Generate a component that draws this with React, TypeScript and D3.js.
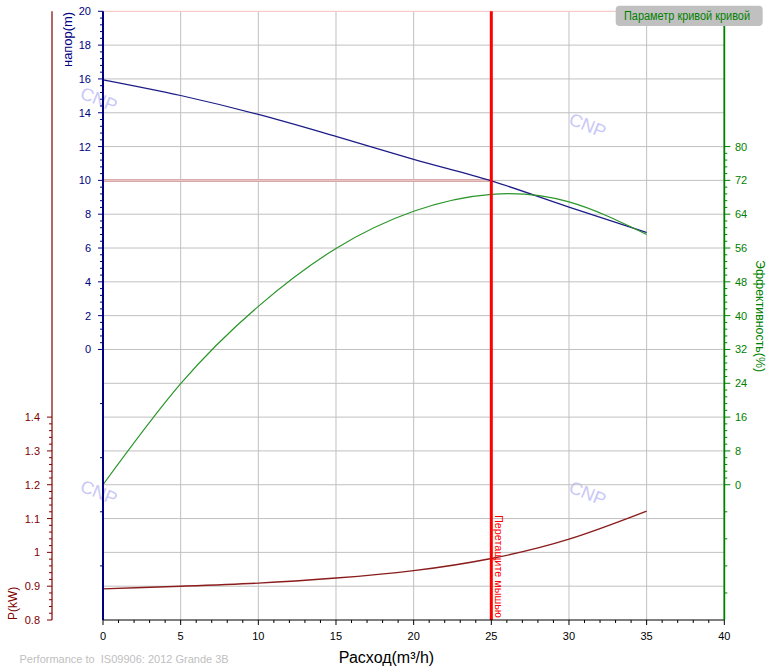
import React from "react";
import * as d3 from "d3";

const flow = [0, 5, 10, 15, 20, 25, 30, 35];
const head = [15.95, 15.02, 13.9, 12.6, 11.24, 9.97, 8.42, 6.92];
const efficiency = [0, 23.9, 42.2, 55.9, 64.7, 68.7, 66.9, 59.2];
const power = [0.892, 0.9, 0.909, 0.924, 0.946, 0.982, 1.039, 1.122];

const xTicks = [0, 5, 10, 15, 20, 25, 30, 35, 40];
const headTicks = [0, 2, 4, 6, 8, 10, 12, 14, 16, 18, 20];
const powerTicks = [0.8, 0.9, 1.0, 1.1, 1.2, 1.3, 1.4];
const powerTickLabels = ["0.8", "0.9", "1", "1.1", "1.2", "1.3", "1.4"];
const effTicks = [0, 8, 16, 24, 32, 40, 48, 56, 64, 72, 80];
const watermarkFlow = [-0.26, 31.2, -0.26, 31.2];
const watermarkHead = [14.8, 13.26, -8.44, -8.5];

const dutyFlow = 25;
const dutyHead = 10;

const W = 773;
const H = 671;
const L = 103;
const R = 724.3;
const T = 11.3;
const B = 620;

const FONT = "'Liberation Sans', Arial, sans-serif";

export default function App() {
  const x = d3.scaleLinear().domain([0, 40]).range([L, R]);
  const yH = d3.scaleLinear().domain([-16, 20]).range([B, T]);
  const yP = d3.scaleLinear().domain([0.8, 2.6]).range([B, T]);
  const yE = d3.scaleLinear().domain([-32, 112]).range([B, T]);

  const mk = (vals: number[], y: d3.ScaleLinear<number, number>, curve: d3.CurveFactory) =>
    d3
      .line<number>()
      .x((_, i) => x(flow[i]))
      .y((d) => y(d))
      .curve(curve)(vals) || "";

  const gridH = d3.range(-14, 20, 2);
  const gridV = [5, 10, 15, 20, 25, 30, 35];

  const headMinor = d3.range(0, 20.001, 0.4).filter((v) => Math.abs(v / 2 - Math.round(v / 2)) > 0.01);
  const headBelow = [-3.2, -6.4, -9.6, -12.8];
  const pMinor = d3.range(0.8, 1.4001, 0.02).filter((v) => Math.abs(v * 10 - Math.round(v * 10)) > 0.01);
  const eMinor = d3.range(0, 80.001, 1.6).filter((v) => Math.abs(v / 8 - Math.round(v / 8)) > 0.01);
  const eBelow = [-6.4, -12.8, -19.2, -25.6];
  const xMinor = d3.range(0, 41, 1).filter((v) => v % 5 !== 0);

  const navy = "#000080";
  const dred = "#800000";
  const green = "#008000";

  return (
    <svg
      width={W}
      height={H}
      style={{ position: "absolute", left: 0, top: 0, background: "#fff" }}
      fontFamily={FONT}
    >
      <rect x={0} y={0} width={W} height={H} fill="#fff" />
      {/* watermarks */}
      {watermarkFlow.map((fx, i) => (
        <text
          key={"wm" + i}
          transform={`translate(${x(fx)},${yH(watermarkHead[i])}) rotate(22)`}
          x={0}
          y={0}
          dy="0.35em"
          fontSize={18}
          fill="#c8c8f6"
          textAnchor="middle"
        >
          CNP
        </text>
      ))}
      {/* grid */}
      {gridH.map((h) => (
        <line key={"gh" + h} x1={L} x2={R} y1={yH(h)} y2={yH(h)} stroke="#c0c0c0" strokeWidth={1} />
      ))}
      {gridV.map((f) => (
        <line key={"gv" + f} x1={x(f)} x2={x(f)} y1={T} y2={B} stroke="#c0c0c0" strokeWidth={1} />
      ))}
      <line x1={L} x2={R} y1={T} y2={T} stroke="#f4c0c0" strokeWidth={1} />

      {/* duty head line */}
      <line x1={x(0)} x2={x(dutyFlow)} y1={yH(dutyHead)} y2={yH(dutyHead)} stroke="#d8a8a8" strokeWidth={3} />
      <line x1={x(0)} x2={x(dutyFlow)} y1={yH(dutyHead)} y2={yH(dutyHead)} stroke="#e8c8c8" strokeWidth={1} />

      {/* curves */}
      <path d={mk(head, yH, d3.curveMonotoneX)} fill="none" stroke="#1c1c88" strokeWidth={1.2} />
      <path d={mk(efficiency, yE, d3.curveNatural)} fill="none" stroke="#2a962a" strokeWidth={1.2} />
      <path d={mk(power, yP, d3.curveNatural)} fill="none" stroke="#8a1c1c" strokeWidth={1.4} />

      {/* duty vertical line */}
      <line x1={x(dutyFlow)} x2={x(dutyFlow)} y1={T} y2={B} stroke="#ff0000" strokeWidth={3} />
      <text
        transform={`translate(${x(dutyFlow) + 3.5},${515}) rotate(90)`}
        fontSize={11}
        fill="#ff0000"
        textLength={103}
        lengthAdjust="spacingAndGlyphs"
      >
        Перетащите мышью
      </text>

      {/* x axis */}
      <line x1={L} x2={R} y1={B} y2={B} stroke="#000" strokeWidth={1} />
      {xTicks.map((t) => (
        <g key={"xt" + t}>
          <line x1={x(t)} x2={x(t)} y1={B} y2={B + 5} stroke="#000" />
          <text x={x(t)} y={B + 20} fontSize={11} textAnchor="middle" fill="#000">
            {t}
          </text>
        </g>
      ))}
      {xMinor.map((t) => (
        <line key={"xm" + t} x1={x(t)} x2={x(t)} y1={B} y2={B + 3} stroke="#000" />
      ))}
      <text x={386.5} y={663} fontSize={16} textAnchor="middle" fill="#000">
        Расход(m³/h)
      </text>

      {/* head axis */}
      <line x1={L} x2={L} y1={T} y2={B} stroke={navy} strokeWidth={2} />
      {headTicks.map((t) => (
        <g key={"ht" + t}>
          <line x1={L - 5} x2={L} y1={yH(t)} y2={yH(t)} stroke={navy} />
          <text x={91} y={yH(t) + 4} fontSize={11} textAnchor="end" fill={navy}>
            {t}
          </text>
        </g>
      ))}
      {headMinor.map((t) => (
        <line key={"hm" + t} x1={L - 3} x2={L} y1={yH(t)} y2={yH(t)} stroke={navy} />
      ))}
      {headBelow.map((t) => (
        <line key={"hb" + t} x1={L - 3} x2={L} y1={yH(t)} y2={yH(t)} stroke={navy} />
      ))}
      <text
        transform={`translate(72,12) rotate(-90)`}
        fontSize={12}
        textAnchor="end"
        fill={navy}
        textLength={55}
        lengthAdjust="spacingAndGlyphs"
      >
        напор(m)
      </text>

      {/* power axis */}
      <line x1={52} x2={52} y1={T} y2={B} stroke={dred} strokeWidth={1.2} />
      {powerTicks.map((t, i) => (
        <g key={"pt" + t}>
          <line x1={47} x2={52} y1={yP(t)} y2={yP(t)} stroke={dred} />
          <text x={40} y={yP(t) + 4} fontSize={11} textAnchor="end" fill={dred}>
            {powerTickLabels[i]}
          </text>
        </g>
      ))}
      {pMinor.map((t) => (
        <line key={"pm" + t} x1={49} x2={52} y1={yP(t)} y2={yP(t)} stroke={dred} />
      ))}
      <text transform={`translate(16.5,620) rotate(-90)`} fontSize={12} textAnchor="start" fill={dred}>
        P(kW)
      </text>

      {/* efficiency axis */}
      <line x1={R} x2={R} y1={T} y2={B} stroke={green} strokeWidth={1.8} />
      {effTicks.map((t) => (
        <g key={"et" + t}>
          <line x1={R} x2={R + 6} y1={yE(t)} y2={yE(t)} stroke={green} />
          <text x={735} y={yE(t) + 4} fontSize={11} textAnchor="start" fill={green}>
            {t}
          </text>
        </g>
      ))}
      {eMinor.map((t) => (
        <line key={"em" + t} x1={R} x2={R + 3} y1={yE(t)} y2={yE(t)} stroke={green} />
      ))}
      {eBelow.map((t) => (
        <line key={"eb" + t} x1={R} x2={R + 3} y1={yE(t)} y2={yE(t)} stroke={green} />
      ))}
      <text
        transform={`translate(756,260) rotate(90)`}
        fontSize={12}
        textAnchor="start"
        fill={green}
        textLength={112}
        lengthAdjust="spacingAndGlyphs"
      >
        Эффективность(%)
      </text>

      {/* legend button */}
      <rect x={615.7} y={5.7} width={147} height={20.3} rx={4} ry={4} fill="#c0c0c0" />
      <text
        x={624}
        y={19.5}
        fontSize={12}
        fill={green}
        textLength={126}
        lengthAdjust="spacingAndGlyphs"
      >
        Параметр кривой кривой
      </text>

      {/* footer */}
      <text x={19.5} y={663} fontSize={11} fill="#c0c0c0" style={{ whiteSpace: "pre" }}>
        {"Performance to  IS09906: 2012 Grande 3B"}
      </text>
    </svg>
  );
}
